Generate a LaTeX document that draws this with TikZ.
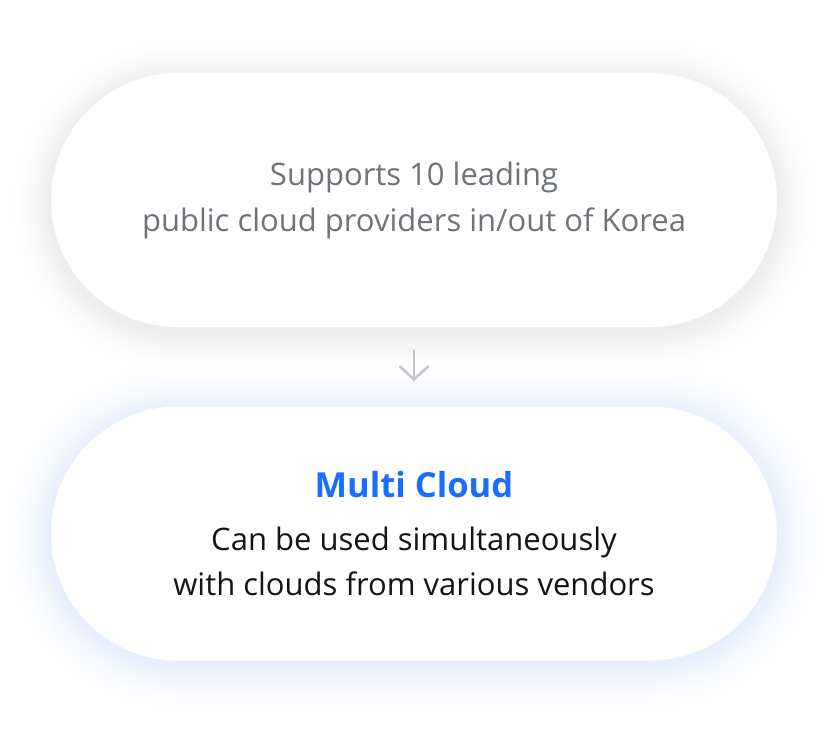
\documentclass[tikz,border=0pt]{standalone}
\usepackage{fontspec}
\setmainfont{Open Sans}
\usetikzlibrary{arrows.meta}
\definecolor{txtgray}{HTML}{6E737A}
\definecolor{mcblue}{HTML}{1A6DFF}
\definecolor{txtdark}{HTML}{141414}
\definecolor{shadowgray}{HTML}{ECECEC}
\definecolor{glowblue}{HTML}{E6EEFF}
\definecolor{arrowgray}{HTML}{C6C6C6}
\begin{document}
\begin{tikzpicture}[x=1pt,y=-1pt,
  pill/.style={rounded corners=127pt, minimum width=726pt, minimum height=254pt,
    fill=white, align=center, inner sep=0pt},
  graytext/.style={text=txtgray, font=\fontsize{31}{46}\selectfont},
  darktext/.style={text=txtdark, font=\fontsize{31}{45}\selectfont},
  downarrow/.style={draw=arrowgray, line width=2.6pt, line cap=round,
    -{Straight Barb[length=13pt,width=28pt,line cap=round]}}]
\useasboundingbox (0,0) rectangle (830,737);
\fill[white] (0,0) rectangle (830,737);
% soft gray shadow of the upper pill
\begin{scope}
\clip (0,0) rectangle (830,367);
\foreach \d in {46,45,...,1}{
  \pgfmathsetmacro\r{127+\d}
  \pgfmathsetmacro\p{100*(1-\d/46)^2}
  \fill[shadowgray!\p!white, rounded corners=\r pt]
    (51-\d,73-\d+5) rectangle (777+\d,327+\d+5);
}
\end{scope}
% blue glow of the lower pill
\begin{scope}
\clip (0,367) rectangle (830,737);
\foreach \d in {52,51,...,1}{
  \pgfmathsetmacro\r{127+\d}
  \pgfmathsetmacro\p{100*(1-\d/52)^1.7}
  \fill[glowblue!\p!white, rounded corners=\r pt]
    (51-\d,407-\d+3) rectangle (777+\d,660+\d+3);
}
\end{scope}
\node[pill, graytext] (top) at (414,200)
  {Supports 10 leading\\public cloud providers in/out of Korea};
\node[pill, darktext] (bottom) at (414,533.5)
  {{\color{mcblue}\fontsize{34.5}{40}\selectfont\bfseries Multi Cloud}\\[8pt]
   Can be used simultaneously\\with clouds from various vendors};
\draw[downarrow, shorten <=23pt, shorten >=25pt] (top.south) -- (bottom.north);
\end{tikzpicture}
\end{document}
